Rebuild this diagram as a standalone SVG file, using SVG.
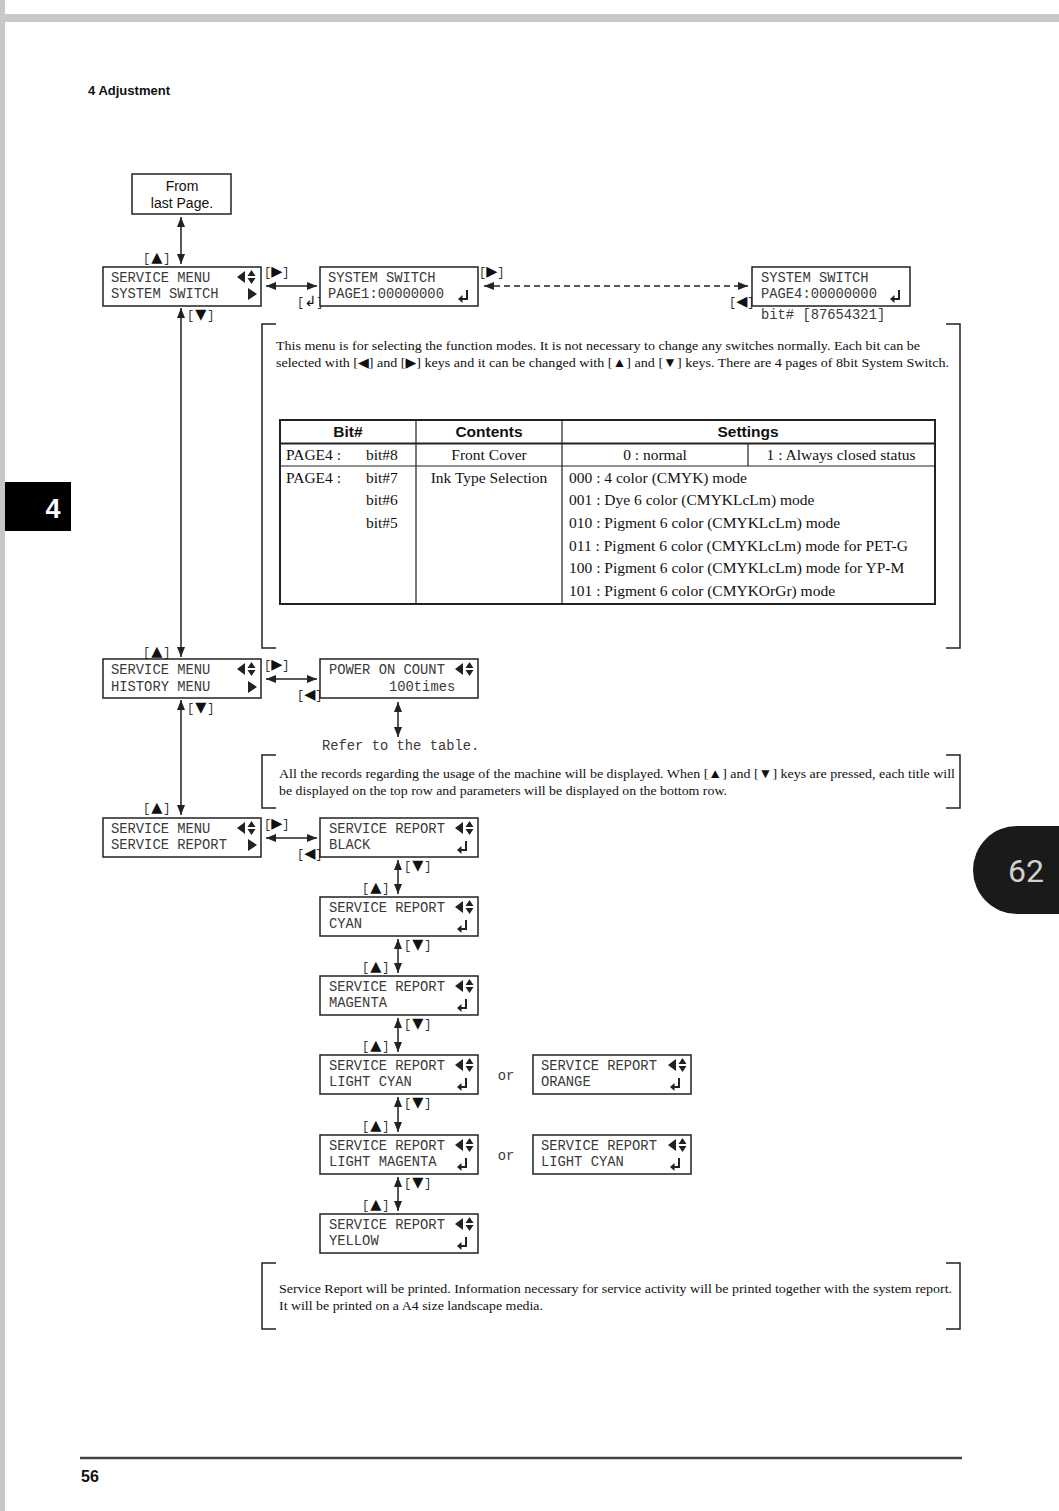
<svg xmlns="http://www.w3.org/2000/svg" width="1059" height="1511" viewBox="0 0 1059 1511">
<style>
.bx{fill:#fff;stroke:#222;stroke-width:1.5}
.mono{font-family:"Liberation Mono","DejaVu Sans Mono",monospace;font-size:13.8px;fill:#3a3a3a}
.key{font-family:"Liberation Mono","DejaVu Sans Mono",monospace;font-size:12px;fill:#333}
.tri{font-family:"DejaVu Sans",sans-serif;font-size:14.5px;fill:#111}
.ser{font-family:"Liberation Serif","DejaVu Serif",serif;font-size:13.4px;fill:#111}
.tb{font-family:"Liberation Serif","DejaVu Serif",serif;font-size:15.5px;fill:#111}
.th{font-family:"Liberation Sans","DejaVu Sans",sans-serif;font-size:15.5px;font-weight:bold;fill:#111}
.ln{stroke:#222;stroke-width:1.5;fill:none}
.br{stroke:#222;stroke-width:1.5;fill:none}
.ic{fill:#222}
</style>
<defs>
<marker id="ah" viewBox="0 0 10 8" refX="10" refY="4" markerWidth="10" markerHeight="8" markerUnits="userSpaceOnUse" orient="auto-start-reverse"><path d="M0,0 L10,4 L0,8 Z" fill="#222"/></marker>
<g id="lrud"><path class="ic" d="M0,0 L8,-6 L8,6 Z M10.5,-1 L14.5,-7 L18.5,-1 Z M10.5,1 L14.5,7 L18.5,1 Z"/></g>
<g id="rt"><path class="ic" d="M0,-6 L9,0 L0,6 Z"/></g>
<g id="ent"><path d="M5,-7 V2 H0" stroke="#222" stroke-width="2" fill="none"/><path class="ic" d="M-4,2 L0.5,-2 L0.5,6 Z"/></g>
</defs>
<rect width="1059" height="1511" fill="#fff"/>
<rect x="0" y="14" width="1059" height="8" fill="#c8c8c8"/>
<rect x="0" y="0" width="5" height="1511" fill="#c8c8c8"/>
<text x="88" y="95" font-family="Liberation Sans, sans-serif" font-size="12.5" font-weight="bold" fill="#111" textLength="82" lengthAdjust="spacingAndGlyphs">4  Adjustment</text>
<rect x="5" y="482" width="66" height="49" fill="#000"/>
<text x="53" y="518" font-family="Liberation Sans, sans-serif" font-size="27" font-weight="bold" fill="#fff" text-anchor="middle">4</text>
<path d="M1059,826 H1017 A44,44 0 0 0 1017,914 H1059 Z" fill="#1a1a1a"/>
<text x="1026" y="882" font-family="Roboto, sans-serif" font-size="32" fill="#d0d0d0" text-anchor="middle">62</text>
<line x1="80" y1="1458" x2="962" y2="1458" stroke="#444" stroke-width="2.5"/>
<text x="81" y="1482" font-family="Liberation Sans, sans-serif" font-size="16" font-weight="bold" fill="#111">56</text>

<g id="connectors">
<line class="ln" x1="181" y1="217" x2="181" y2="264" marker-start="url(#ah)" marker-end="url(#ah)"/>
<line class="ln" x1="266" y1="286" x2="317" y2="286" marker-start="url(#ah)" marker-end="url(#ah)"/>
<line class="ln" x1="484" y1="286" x2="748" y2="286" stroke-dasharray="6,4" marker-start="url(#ah)" marker-end="url(#ah)"/>
<line class="ln" x1="181" y1="308" x2="181" y2="657" marker-start="url(#ah)" marker-end="url(#ah)"/>
<line class="ln" x1="266" y1="679" x2="317" y2="679" marker-start="url(#ah)" marker-end="url(#ah)"/>
<line class="ln" x1="398" y1="702" x2="398" y2="737" marker-start="url(#ah)" marker-end="url(#ah)"/>
<line class="ln" x1="181" y1="700" x2="181" y2="815" marker-start="url(#ah)" marker-end="url(#ah)"/>
<line class="ln" x1="266" y1="838" x2="317" y2="838" marker-start="url(#ah)" marker-end="url(#ah)"/>
<line class="ln" x1="398" y1="860" x2="398" y2="894" marker-start="url(#ah)" marker-end="url(#ah)"/>
<line class="ln" x1="398" y1="939" x2="398" y2="973" marker-start="url(#ah)" marker-end="url(#ah)"/>
<line class="ln" x1="398" y1="1018" x2="398" y2="1052" marker-start="url(#ah)" marker-end="url(#ah)"/>
<line class="ln" x1="398" y1="1097" x2="398" y2="1132" marker-start="url(#ah)" marker-end="url(#ah)"/>
<line class="ln" x1="398" y1="1177" x2="398" y2="1211" marker-start="url(#ah)" marker-end="url(#ah)"/>
<g class="key">
<text x="143" y="262">[<tspan class="tri" dx="1">▲</tspan><tspan dx="1">]</tspan></text>
<text x="187" y="319">[<tspan class="tri" dx="1">▼</tspan><tspan dx="1">]</tspan></text>
<text x="264" y="276">[<tspan class="tri">▶</tspan>]</text>
<text x="297" y="306">[<tspan class="tri">↲</tspan>]</text>
<text x="479" y="276">[<tspan class="tri">▶</tspan>]</text>
<text x="729" y="306">[<tspan class="tri">◀</tspan>]</text>
<text x="143" y="656">[<tspan class="tri" dx="1">▲</tspan><tspan dx="1">]</tspan></text>
<text x="264" y="669">[<tspan class="tri">▶</tspan>]</text>
<text x="297" y="699">[<tspan class="tri">◀</tspan>]</text>
<text x="187" y="712">[<tspan class="tri" dx="1">▼</tspan><tspan dx="1">]</tspan></text>
<text x="143" y="812">[<tspan class="tri" dx="1">▲</tspan><tspan dx="1">]</tspan></text>
<text x="264" y="828">[<tspan class="tri">▶</tspan>]</text>
<text x="297" y="858">[<tspan class="tri">◀</tspan>]</text>
<text x="404" y="870">[<tspan class="tri" dx="1">▼</tspan><tspan dx="1">]</tspan></text>
<text x="362" y="892">[<tspan class="tri" dx="1">▲</tspan><tspan dx="1">]</tspan></text>
<text x="404" y="949">[<tspan class="tri" dx="1">▼</tspan><tspan dx="1">]</tspan></text>
<text x="362" y="971">[<tspan class="tri" dx="1">▲</tspan><tspan dx="1">]</tspan></text>
<text x="404" y="1028">[<tspan class="tri" dx="1">▼</tspan><tspan dx="1">]</tspan></text>
<text x="362" y="1050">[<tspan class="tri" dx="1">▲</tspan><tspan dx="1">]</tspan></text>
<text x="404" y="1107">[<tspan class="tri" dx="1">▼</tspan><tspan dx="1">]</tspan></text>
<text x="362" y="1130">[<tspan class="tri" dx="1">▲</tspan><tspan dx="1">]</tspan></text>
<text x="404" y="1187">[<tspan class="tri" dx="1">▼</tspan><tspan dx="1">]</tspan></text>
<text x="362" y="1209">[<tspan class="tri" dx="1">▲</tspan><tspan dx="1">]</tspan></text>
</g>
</g>

<g id="from-last-page">
<rect class="bx" x="132" y="174" width="99" height="40"/>
<text x="182" y="191" font-family="Liberation Sans, sans-serif" font-size="14" fill="#111" text-anchor="middle">From</text>
<text x="182" y="208" font-family="Liberation Sans, sans-serif" font-size="14" fill="#111" text-anchor="middle">last Page.</text>
</g>

<g id="menu-system-switch">
<rect class="bx" x="103" y="267" width="158" height="39"/>
<text class="mono" x="111" y="282">SERVICE MENU</text>
<text class="mono" x="111" y="298">SYSTEM SWITCH</text>
<use href="#lrud" x="237" y="277"/>
<use href="#rt" x="248" y="294"/>
</g>

<g id="system-switch-page1">
<rect class="bx" x="320" y="267" width="158" height="39"/>
<text class="mono" x="328" y="282">SYSTEM SWITCH</text>
<text class="mono" x="328" y="298">PAGE1:00000000</text>
<use href="#ent" x="462" y="297"/>
</g>

<g id="system-switch-page4">
<rect class="bx" x="752" y="267" width="158" height="39"/>
<text class="mono" x="761" y="282">SYSTEM SWITCH</text>
<text class="mono" x="761" y="298">PAGE4:00000000</text>
<use href="#ent" x="894" y="297"/>
<text class="mono" x="761" y="319">bit# [87654321]</text>
</g>

<g id="note-system-switch">
<path class="br" d="M276,324 H262 V648 H276"/>
<path class="br" d="M946,324 H960 V648 H946"/>
<text class="ser" x="276" y="350" textLength="644" lengthAdjust="spacingAndGlyphs">This menu is for selecting the function modes.  It is not necessary to change any switches normally.  Each bit can be</text>
<text class="ser" x="276" y="367" textLength="673" lengthAdjust="spacingAndGlyphs">selected with [◀] and [▶] keys and it can be changed with [▲] and [▼] keys.  There are 4 pages of 8bit System Switch.</text>
</g>

<g id="bit-table">
<rect x="280" y="420" width="655" height="184" fill="none" stroke="#222" stroke-width="2"/>
<line x1="280" y1="443.5" x2="935" y2="443.5" stroke="#222" stroke-width="2"/>
<line x1="280" y1="466" x2="935" y2="466" stroke="#222" stroke-width="1.2"/>
<line x1="416" y1="420" x2="416" y2="604" stroke="#222" stroke-width="1.2"/>
<line x1="562" y1="420" x2="562" y2="604" stroke="#222" stroke-width="1.2"/>
<line x1="748" y1="443" x2="748" y2="466" stroke="#222" stroke-width="1.2"/>
<text class="th" x="348" y="437" text-anchor="middle">Bit#</text>
<text class="th" x="489" y="437" text-anchor="middle">Contents</text>
<text class="th" x="748" y="437" text-anchor="middle">Settings</text>
<text class="tb" x="286" y="460">PAGE4 :</text>
<text class="tb" x="366" y="460">bit#8</text>
<text class="tb" x="489" y="460" text-anchor="middle">Front Cover</text>
<text class="tb" x="655" y="460" text-anchor="middle">0 : normal</text>
<text class="tb" x="841" y="460" text-anchor="middle">1 : Always closed status</text>
<text class="tb" x="286" y="483">PAGE4 :</text>
<text class="tb" x="366" y="483">bit#7</text>
<text class="tb" x="366" y="505">bit#6</text>
<text class="tb" x="366" y="528">bit#5</text>
<text class="tb" x="489" y="483" text-anchor="middle">Ink Type Selection</text>
<text class="tb" x="569" y="483">000 : 4 color (CMYK) mode</text>
<text class="tb" x="569" y="505">001 : Dye 6 color (CMYKLcLm) mode</text>
<text class="tb" x="569" y="528">010 : Pigment 6 color (CMYKLcLm) mode</text>
<text class="tb" x="569" y="551">011 : Pigment 6 color (CMYKLcLm) mode for PET-G</text>
<text class="tb" x="569" y="573">100 : Pigment 6 color (CMYKLcLm) mode for YP-M</text>
<text class="tb" x="569" y="596">101 : Pigment 6 color (CMYKOrGr) mode</text>
</g>

<g id="menu-history">
<rect class="bx" x="103" y="659" width="158" height="39"/>
<text class="mono" x="111" y="674">SERVICE MENU</text>
<text class="mono" x="111" y="691">HISTORY MENU</text>
<use href="#lrud" x="237" y="669"/>
<use href="#rt" x="248" y="687"/>
</g>

<g id="power-on-count">
<rect class="bx" x="320" y="659" width="158" height="39"/>
<text class="mono" x="329" y="674">POWER ON COUNT</text>
<text class="mono" x="389" y="691">100times</text>
<use href="#lrud" x="455" y="669"/>
<text class="mono" x="322" y="750">Refer to the table.</text>
</g>

<g id="note-history">
<path class="br" d="M276,755 H262 V808 H276"/>
<path class="br" d="M946,755 H960 V808 H946"/>
<text class="ser" x="279" y="778" textLength="676" lengthAdjust="spacingAndGlyphs">All the records regarding the usage of the machine will be displayed.  When [▲] and [▼] keys are pressed, each title will</text>
<text class="ser" x="279" y="795" textLength="448" lengthAdjust="spacingAndGlyphs">be displayed on the top row and parameters will be displayed on the bottom row.</text>
</g>

<g id="menu-service-report">
<rect class="bx" x="103" y="818" width="158" height="39"/>
<text class="mono" x="111" y="833">SERVICE MENU</text>
<text class="mono" x="111" y="849">SERVICE REPORT</text>
<use href="#lrud" x="237" y="828"/>
<use href="#rt" x="248" y="845"/>
</g>

<g id="report-black">
<rect class="bx" x="320" y="818" width="158" height="39"/>
<text class="mono" x="329" y="833">SERVICE REPORT</text>
<text class="mono" x="329" y="849">BLACK</text>
<use href="#lrud" x="455" y="828"/>
<use href="#ent" x="461" y="848"/>
</g>
<g id="report-cyan">
<rect class="bx" x="320" y="897" width="158" height="39"/>
<text class="mono" x="329" y="912">SERVICE REPORT</text>
<text class="mono" x="329" y="928">CYAN</text>
<use href="#lrud" x="455" y="907"/>
<use href="#ent" x="461" y="927"/>
</g>
<g id="report-magenta">
<rect class="bx" x="320" y="976" width="158" height="39"/>
<text class="mono" x="329" y="991">SERVICE REPORT</text>
<text class="mono" x="329" y="1007">MAGENTA</text>
<use href="#lrud" x="455" y="986"/>
<use href="#ent" x="461" y="1006"/>
</g>
<g id="report-light-cyan">
<rect class="bx" x="320" y="1055" width="158" height="39"/>
<text class="mono" x="329" y="1070">SERVICE REPORT</text>
<text class="mono" x="329" y="1086">LIGHT CYAN</text>
<use href="#lrud" x="455" y="1065"/>
<use href="#ent" x="461" y="1085"/>
</g>
<text class="mono" x="506" y="1080" text-anchor="middle">or</text>
<g id="report-orange">
<rect class="bx" x="533" y="1055" width="158" height="39"/>
<text class="mono" x="541" y="1070">SERVICE REPORT</text>
<text class="mono" x="541" y="1086">ORANGE</text>
<use href="#lrud" x="668" y="1065"/>
<use href="#ent" x="674" y="1085"/>
</g>
<g id="report-light-magenta">
<rect class="bx" x="320" y="1135" width="158" height="39"/>
<text class="mono" x="329" y="1150">SERVICE REPORT</text>
<text class="mono" x="329" y="1166">LIGHT MAGENTA</text>
<use href="#lrud" x="455" y="1145"/>
<use href="#ent" x="461" y="1165"/>
</g>
<text class="mono" x="506" y="1160" text-anchor="middle">or</text>
<g id="report-light-cyan-2">
<rect class="bx" x="533" y="1135" width="158" height="39"/>
<text class="mono" x="541" y="1150">SERVICE REPORT</text>
<text class="mono" x="541" y="1166">LIGHT CYAN</text>
<use href="#lrud" x="668" y="1145"/>
<use href="#ent" x="674" y="1165"/>
</g>
<g id="report-yellow">
<rect class="bx" x="320" y="1214" width="158" height="39"/>
<text class="mono" x="329" y="1229">SERVICE REPORT</text>
<text class="mono" x="329" y="1245">YELLOW</text>
<use href="#lrud" x="455" y="1224"/>
<use href="#ent" x="461" y="1244"/>
</g>

<g id="note-service-report">
<path class="br" d="M276,1263 H262 V1329 H276"/>
<path class="br" d="M946,1263 H960 V1329 H946"/>
<text class="ser" x="279" y="1293" textLength="673" lengthAdjust="spacingAndGlyphs">Service Report will be printed.  Information necessary for service activity will be printed together with the system report.</text>
<text class="ser" x="279" y="1310" textLength="264" lengthAdjust="spacingAndGlyphs">It will be printed on a A4 size landscape media.</text>
</g>
</svg>
